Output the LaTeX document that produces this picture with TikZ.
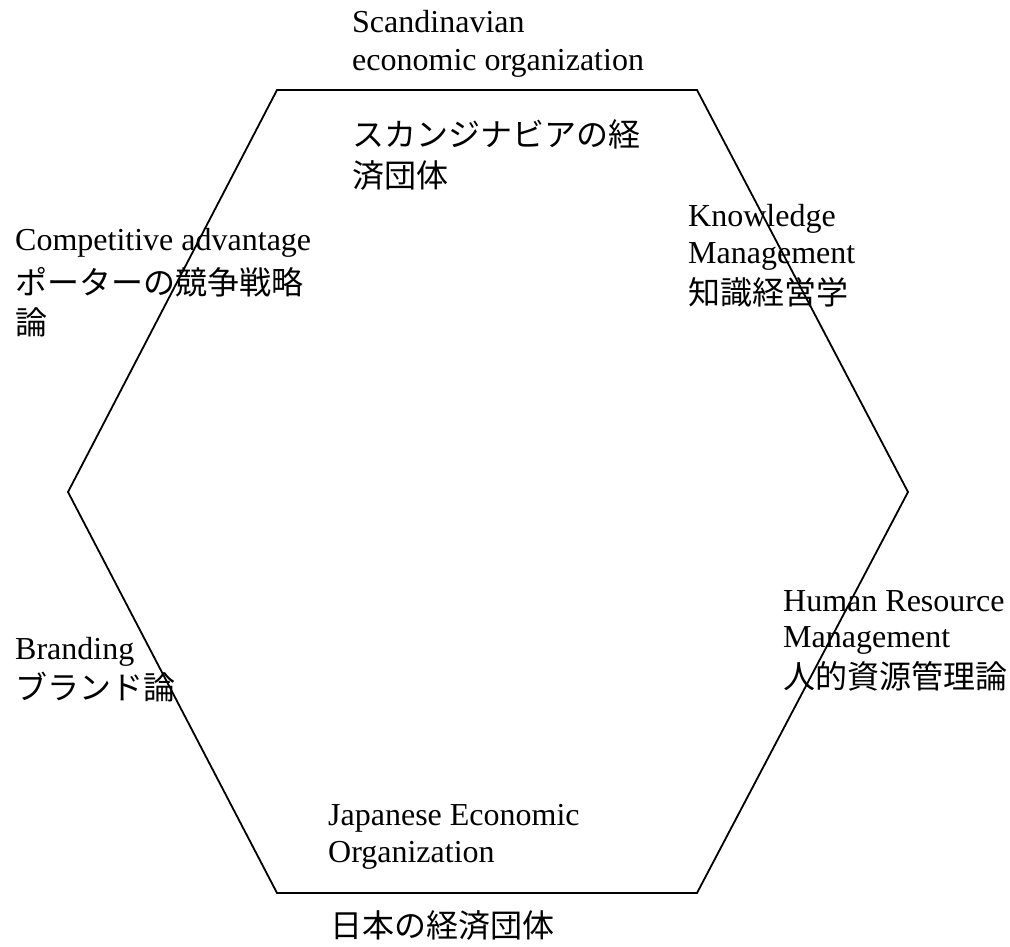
\documentclass[tikz,border=0pt]{standalone}
\usepackage{fontspec}
\setmainfont{Liberation Serif}
\newfontfamily\jpfont{Noto Sans CJK JP}
\begin{document}
\begin{tikzpicture}[x=1pt,y=-1pt,
  lat/.style={anchor=base west,inner sep=0pt,font=\fontsize{32}{37}\selectfont},
  jp/.style={anchor=base west,inner sep=0pt,font=\fontsize{32}{37}\selectfont\jpfont},
  hex/.style={line width=1.8pt,line join=miter}]
\useasboundingbox (0,0) rectangle (1010,947);
% hexagon
\coordinate (tl) at (277,90);
\coordinate (tr) at (697,90);
\coordinate (r) at (908,492);
\coordinate (br) at (697,893);
\coordinate (bl) at (277,893);
\coordinate (l) at (68,492);
\draw[hex] (tl) -- (tr) -- (r) -- (br) -- (bl) -- (l) -- cycle;
% top
\node[lat] (sc1) at (352,33) {Scandinavian};
\node[lat] (sc2) at (352,71) {economic organization};
\node[jp] (sc3) at (352,147) {スカンジナビアの経};
\node[jp] (sc4) at (352,187) {済団体};
% upper left
\node[lat] (ca1) at (15,251) {Competitive advantage};
\node[jp] (ca2) at (15,294) {ポーターの競争戦略};
\node[jp] (ca3) at (15,334) {論};
% upper right
\node[lat] (km1) at (688,226) {Knowledge};
\node[lat] (km2) at (688,263) {Management};
\node[jp] (km3) at (688,304) {知識経営学};
% lower right
\node[lat] (hr1) at (783,611) {Human Resource};
\node[lat] (hr2) at (783,647) {Management};
\node[jp] (hr3) at (783,688) {人的資源管理論};
% lower left
\node[lat] (br1) at (15,659) {Branding};
\node[jp] (br2) at (15,699) {ブランド論};
% bottom
\node[lat] (je1) at (328,825) {Japanese Economic};
\node[lat] (je2) at (328,862) {Organization};
\node[jp] (je3) at (330,937) {日本の経済団体};
\end{tikzpicture}
\end{document}
